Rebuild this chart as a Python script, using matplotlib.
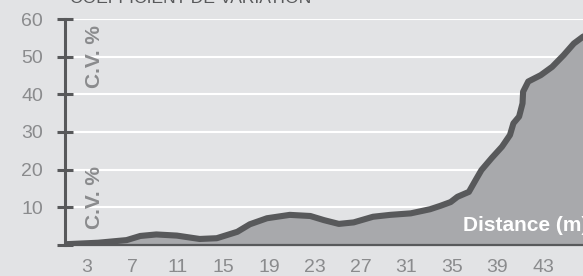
import matplotlib
matplotlib.use("Agg")
import matplotlib.pyplot as plt

# distance (m) et coefficient de variation (%)
distance = [1.1, 4.0, 6.5, 7.7, 9.1, 10.9, 12.9, 14.4, 16.2, 17.3, 18.8,
            20.8, 22.6, 23.8, 25.1, 26.4, 28.1, 29.6, 31.4, 33.1, 34.0,
            34.9, 35.5, 36.5, 37.1, 37.6, 38.5, 39.4, 40.1, 40.4, 40.9,
            41.2, 41.25, 41.7, 42.8, 43.8, 44.8, 45.7, 46.5, 47.0]
cv = [0.2, 0.6, 1.3, 2.4, 2.8, 2.5, 1.6, 1.8, 3.5, 5.5, 7.1,
      8.0, 7.7, 6.6, 5.6, 6.0, 7.5, 8.0, 8.4, 9.5, 10.4,
      11.4, 12.8, 14.1, 17.3, 19.9, 23.1, 26.1, 29.2, 32.3, 34.1,
      37.6, 40.7, 43.4, 45.1, 47.3, 50.4, 53.5, 55.3, 56.0]
xticks = [3, 7, 11, 15, 19, 23, 27, 31, 35, 39, 43]
yticks = [10, 20, 30, 40, 50, 60]

BG = "#e2e3e5"
FILL = "#a8a9ac"
LINE = "#58595b"
TXT = "#8a8b8d"

W, H = 583, 276
fig = plt.figure(figsize=(W / 100, H / 100), dpi=100, facecolor=BG)
ax = fig.add_axes([65 / W, 31 / H, (W - 65) / W, 226 / H], facecolor=BG)

ax.set_xlim(1.1, 46.5)
ax.set_ylim(0, 60)

for y in yticks:
    ax.axhline(y, color="white", lw=1.5, zorder=1)

ax.fill_between(distance, cv, 0, color=FILL, lw=0, zorder=2)
ax.plot(distance, cv, color=LINE, lw=4.4, solid_capstyle="round",
        solid_joinstyle="round", zorder=3)

for s in ("top", "right"):
    ax.spines[s].set_visible(False)
ax.spines["left"].set_color(LINE)
ax.spines["left"].set_linewidth(2.2)
ax.spines["bottom"].set_color(LINE)
ax.spines["bottom"].set_linewidth(1.6)
ax.spines["left"].set_zorder(4)
ax.spines["bottom"].set_zorder(4)

ax.set_yticks(yticks + [0])
ax.set_yticklabels([str(v) for v in yticks] + [""])
ax.set_xticks(xticks)
ax.set_xticklabels([str(v) for v in xticks])
ax.tick_params(axis="y", direction="inout", length=11.5, width=2.2,
               color=LINE, pad=10, labelsize=14, labelcolor=TXT)
ax.tick_params(axis="x", length=0, pad=10, labelsize=14, labelcolor=TXT)
for lab in ax.get_xticklabels() + ax.get_yticklabels():
    lab.set_family("Liberation Sans")

for yc in (49.9, 12.7):
    ax.text(3.7, yc, "C.V. %", rotation=90, ha="center", va="center",
            fontsize=15, fontweight="bold", color=TXT,
            family="Liberation Sans", zorder=5)
ax.text(36.0, 5.3, "Distance (m)", ha="left", va="center", fontsize=15,
        fontweight="bold", color="white", family="Liberation Sans",
        zorder=5, clip_on=False)

fig.text(70 / W, (H - 3) / H, "COEFFICIENT DE VARIATION", ha="left",
         va="baseline", fontsize=12.6, color=LINE, family="Liberation Sans")

fig.savefig("out.png", dpi=100, facecolor=BG)
